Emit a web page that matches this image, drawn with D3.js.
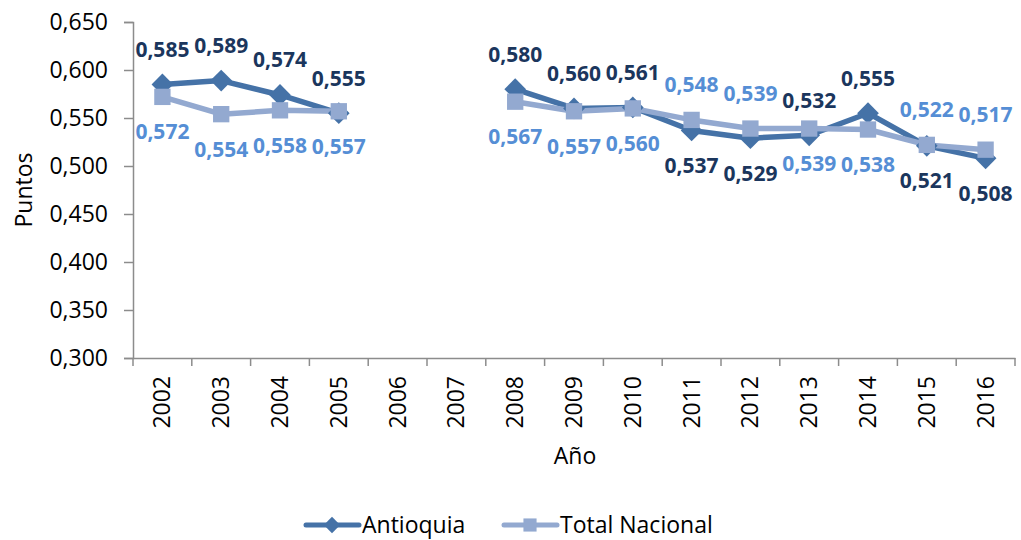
<!DOCTYPE html>
<html>
<head>
<meta charset="utf-8">
<script src="https://cdn.jsdelivr.net/npm/d3@7"></script>
<style>
  body { margin: 0; background: #fff; }
  #chart text { font-family: "Open Sans", "Noto Sans", sans-serif; }
</style>
</head>
<body>
<div id="chart"></div>
<script>
// Data
const years = ["2002", "2003", "2004", "2005", "2006", "2007", "2008", "2009",
    "2010", "2011", "2012", "2013", "2014", "2015", "2016"];
const antioquia = [0.585, 0.589, 0.574, 0.555, null, null, 0.580, 0.560,
    0.561, 0.537, 0.529, 0.532, 0.555, 0.521, 0.508];
const totalNacional = [0.572, 0.554, 0.558, 0.557, null, null, 0.567, 0.557,
    0.560, 0.548, 0.539, 0.539, 0.538, 0.522, 0.517];
// label above (1) or below (-1) the point
const antioquiaSide = [1, 1, 1, 1, 0, 0, 1, 1, 1, -1, -1, 1, 1, -1, -1];
const totalSide = [-1, -1, -1, -1, 0, 0, -1, -1, -1, 1, 1, -1, -1, 1, 1];
const yTicks = [0.300, 0.350, 0.400, 0.450, 0.500, 0.550, 0.600, 0.650];

const width = 1021, height = 540;
const margin = { top: 22, right: 6, bottom: 182, left: 133 };
const innerW = width - margin.left - margin.right;
const innerH = height - margin.top - margin.bottom;

const fmt = v => d3.format(".3f")(v).replace(".", ",");

const svg = d3.select("#chart")
    .append("svg")
    .attr("width", width)
    .attr("height", height);

const g = svg.append("g")
    .attr("transform", "translate(" + margin.left + "," + margin.top + ")");

// Scales
const xScale = d3.scaleBand().domain(years).range([0, innerW]);
const yScale = d3.scaleLinear().domain([0.3, 0.65]).range([innerH, 0]);
const cx = d => xScale(d) + xScale.bandwidth() / 2;

// Axes
const xAxis = g.append("g")
    .attr("transform", "translate(0," + innerH + ")")
    .call(d3.axisBottom(xScale).tickSize(0).tickFormat(""));
xAxis.select(".domain").attr("stroke", "#8c8c8c").attr("stroke-width", 1.5);
// tick marks between categories
g.append("g").selectAll("line")
    .data(d3.range(years.length + 1))
    .enter()
    .append("line")
    .attr("x1", i => i * xScale.bandwidth())
    .attr("x2", i => i * xScale.bandwidth())
    .attr("y1", innerH)
    .attr("y2", innerH + 8)
    .attr("stroke", "#8c8c8c")
    .attr("stroke-width", 1.5);
// rotated year labels
g.append("g").selectAll("text")
    .data(years)
    .enter()
    .append("text")
    .attr("transform", d => "translate(" + cx(d) + "," + (innerH + 18) + ") rotate(-90)")
    .attr("dy", "0.35em")
    .style("text-anchor", "end")
    .style("font-size", "23px")
    .style("fill", "#000")
    .text(d => d);

const yAxis = g.append("g")
    .call(d3.axisLeft(yScale).tickValues(yTicks).tickFormat(fmt).tickSize(9).tickPadding(16));
yAxis.select(".domain").attr("stroke", "#8c8c8c").attr("stroke-width", 1.5);
yAxis.selectAll(".tick line").attr("stroke", "#8c8c8c").attr("stroke-width", 1.5);
yAxis.selectAll(".tick text")
    .style("font-size", "23px")
    .style("fill", "#000")
    .style("font-family", "'Open Sans', 'Noto Sans', sans-serif");

// Axis titles
svg.append("text")
    .attr("transform", "translate(24," + (margin.top + innerH / 2) + ") rotate(-90)")
    .attr("dy", "0.35em")
    .style("text-anchor", "middle")
    .style("font-size", "23px")
    .text("Puntos");

svg.append("text")
    .attr("x", 575)
    .attr("y", 464)
    .style("text-anchor", "middle")
    .style("font-size", "23px")
    .text("Año");

// Series
const series = [
    { name: "Antioquia", values: antioquia, side: antioquiaSide, color: "#4572a7", label: "#1b365d", marker: "diamond" },
    { name: "Total Nacional", values: totalNacional, side: totalSide, color: "#93a9d0", label: "#558ed5", marker: "square" }
];

const line = d3.line()
    .defined(d => d.v !== null)
    .x(d => cx(d.year))
    .y(d => yScale(d.v));

const diamond = d3.symbol().type(d3.symbolDiamond2).size(300);
const square = d3.symbol().type(d3.symbolSquare2).size(340);

series.forEach(s => {
    const pts = years.map((y, i) => ({ year: y, v: s.values[i], side: s.side[i] }));
    g.append("path")
        .datum(pts)
        .attr("d", line)
        .attr("fill", "none")
        .attr("stroke", s.color)
        .attr("stroke-width", 5.5)
        .attr("stroke-linejoin", "round");
});

series.forEach(s => {
    const pts = years.map((y, i) => ({ year: y, v: s.values[i], side: s.side[i] }))
        .filter(d => d.v !== null);
    g.append("g").selectAll("path")
        .data(pts)
        .enter()
        .append("path")
        .attr("transform", d => "translate(" + cx(d.year) + "," + yScale(d.v) + ")")
        .attr("d", s.marker === "diamond" ? diamond : square)
        .attr("fill", s.color);
});

// Data labels
series.forEach(s => {
    const pts = years.map((y, i) => ({ year: y, v: s.values[i], side: s.side[i] }))
        .filter(d => d.v !== null);
    g.append("g").selectAll("text")
        .data(pts)
        .enter()
        .append("text")
        .attr("x", d => cx(d.year))
        .attr("y", d => yScale(d.v) - d.side * 35)
        .attr("dy", "0.35em")
        .style("text-anchor", "middle")
        .style("font-size", "21px")
        .style("font-weight", "bold")
        .style("fill", s.label)
        .text(d => fmt(d.v));
});

// Legend
const legend = svg.append("g").attr("transform", "translate(304,525)");
const legendItems = [
    { s: series[0], x: 0 },
    { s: series[1], x: 198 }
];
legendItems.forEach(item => {
    const lg = legend.append("g").attr("transform", "translate(" + item.x + ",0)");
    lg.append("line")
        .attr("x1", 2).attr("x2", 55)
        .attr("stroke", item.s.color)
        .attr("stroke-width", 5)
        .attr("stroke-linecap", "round");
    lg.append("path")
        .attr("transform", "translate(28,0)")
        .attr("d", item.s.marker === "diamond"
            ? d3.symbol().type(d3.symbolDiamond2).size(170)
            : d3.symbol().type(d3.symbolSquare2).size(220))
        .attr("fill", item.s.color);
    lg.append("text")
        .attr("x", 58)
        .attr("dy", "0.35em")
        .style("font-size", "23px")
        .text(item.s.name);
});
</script>
</body>
</html>
